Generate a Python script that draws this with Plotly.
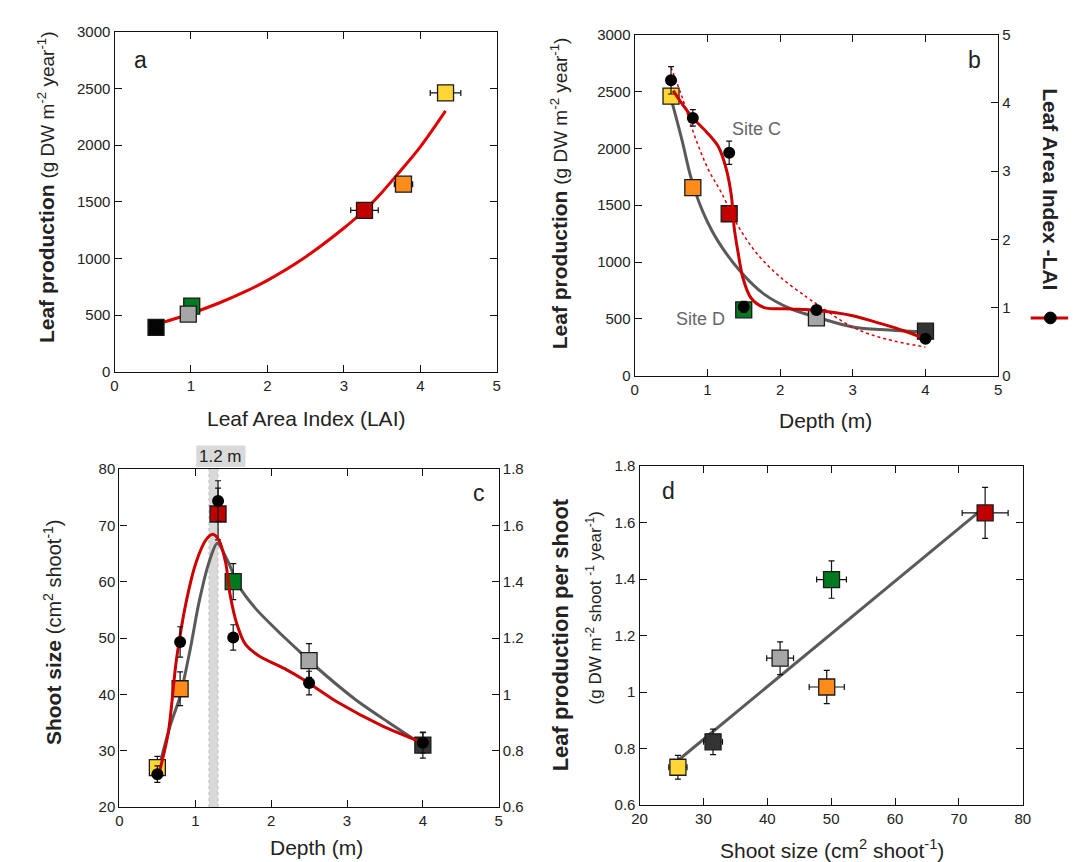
import plotly.graph_objects as go

# ---------------- data ----------------
depth = [0.5, 0.8, 1.3, 1.5, 2.5, 4.0]
site_colors = ["#FFD633", "#FF8C1A", "#C00000", "#007A1E", "#A6A6A6", "#333333"]
site_colors_a = ["#FFD633", "#FF8C1A", "#C00000", "#007A1E", "#A6A6A6", "#050505"]

lai = [4.33, 3.78, 3.27, 1.01, 0.965, 0.543]
lai_err = [0.2, 0.12, 0.17, 0.08, 0.04, 0.02]
lai_xerr_a = [0.2, 0.12, 0.18, 0.0, 0.0, 0.0]
leaf_prod = [2460, 1655, 1425, 580, 510, 392]
leaf_prod_err = [25, 20, 25, 0, 0, 0]

# panel a fitted curve
fit_lai = [0.65, 1.0, 1.36, 1.7, 2.0, 2.47, 2.99, 3.27, 3.5, 3.75, 4.0, 4.33]
fit_lp = [440, 515, 605, 705, 807, 1000, 1262, 1425, 1585, 1781, 1985, 2302]

# panel b curves
gray_b_d = [0.5, 0.65, 0.78, 0.94, 1.15, 1.47, 1.78, 2.15, 2.5, 3.0, 3.5, 4.0]
gray_b_lp = [2440, 2075, 1730, 1440, 1180, 906, 718, 588, 516, 429, 402, 385]
red_b_d = [0.53, 0.65, 0.8, 1.0, 1.15, 1.26, 1.33, 1.37, 1.42, 1.49, 1.6, 1.78, 2.15, 2.5, 3.0, 3.4, 3.7, 4.0]
red_b_lai = [4.18, 3.99, 3.78, 3.56, 3.36, 3.03, 2.64, 2.16, 1.82, 1.43, 1.14, 1.0, 0.98, 0.96, 0.88, 0.76, 0.66, 0.54]
dot_b_d = [0.5, 0.65, 0.81, 1.01, 1.19, 1.42, 1.69, 2.01, 2.37, 2.59, 3.0, 3.45, 4.0]
dot_b_lai = [4.52, 4.09, 3.56, 3.03, 2.69, 2.2, 1.78, 1.44, 1.15, 0.99, 0.71, 0.54, 0.42]

# panel c
shoot_size = [27, 41, 72, 60, 46, 31]
shoot_size_err = [2.0, 3.0, 4.6, 3.2, 3.0, 2.3]
lpps_c = [0.717, 1.186, 1.686, 1.202, 1.04, 0.828]
lpps_c_err = [0.029, 0.054, 0.072, 0.045, 0.042, 0.036]
gray_c_d = [0.52, 0.67, 0.8, 0.93, 1.05, 1.18, 1.29, 1.42, 1.57, 1.79, 2.09, 2.43, 2.59, 3.11, 3.54, 4.0]
gray_c_size = [27.0, 34.5, 39.7, 47.8, 56.4, 63.4, 66.8, 63.9, 59.3, 55.3, 51.2, 46.9, 44.9, 39.1, 35.1, 31.0]
red_c_d = [0.53, 0.645, 0.75, 0.88, 1.01, 1.14, 1.23, 1.31, 1.40, 1.46, 1.55, 1.66, 1.83, 2.2, 2.43, 2.89, 3.45, 4.0]
red_c_lpps = [0.728, 0.866, 1.12, 1.328, 1.468, 1.548, 1.568, 1.548, 1.468, 1.352, 1.248, 1.178, 1.138, 1.088, 1.052, 0.97, 0.89, 0.828]
band_c = [1.18, 1.30]

# panel d
d_shoot = [26.0, 49.3, 74.1, 50.05, 42.0, 31.5]
d_shoot_err = [1.43, 2.75, 3.6, 2.33, 2.1, 1.48]
d_lpps = [0.734, 1.018, 1.634, 1.398, 1.120, 0.824]
d_lpps_err = [0.042, 0.059, 0.09, 0.066, 0.058, 0.045]
reg_x = [26.0, 73.7]
reg_y = [0.758, 1.648]

# ---------------- layout helpers ----------------
W, H = 1077, 862
def px(x):
    return x / W
def py(y):
    return 1 - y / H

FONT = "Liberation Sans, Arial, sans-serif"
RED = "#CC0000"
GRAY = "#5A5A5A"
EDGE = "#1A1A1A"
SQ = 16
CI = 12

fig = go.Figure()

def err(arr, w=3):
    return dict(type="data", array=arr, visible=True, color="#111111", thickness=1.2, width=w)

# ---- panel a ----
fig.add_trace(go.Scatter(x=fit_lai, y=fit_lp, mode="lines", line=dict(color="#E00000", width=3, shape="spline"),
                         xaxis="x", yaxis="y", hoverinfo="skip"))
fig.add_trace(go.Scatter(x=lai, y=leaf_prod, mode="markers", error_x=err(lai_xerr_a),
                         marker=dict(symbol="square", size=SQ, color=site_colors_a, line=dict(color=EDGE, width=1.3)),
                         xaxis="x", yaxis="y"))

# ---- panel b ----
fig.add_trace(go.Scatter(x=gray_b_d, y=gray_b_lp, mode="lines", line=dict(color=GRAY, width=3, shape="spline"),
                         xaxis="x2", yaxis="y2"))
fig.add_trace(go.Scatter(x=depth, y=leaf_prod, mode="markers", error_y=err(leaf_prod_err, 2),
                         marker=dict(symbol="square", size=SQ, color=site_colors, line=dict(color=EDGE, width=1.3)),
                         xaxis="x2", yaxis="y2"))
fig.add_trace(go.Scatter(x=dot_b_d, y=dot_b_lai, mode="lines", line=dict(color="#E00000", width=1.5, dash="dot", shape="spline"),
                         xaxis="x2", yaxis="y3"))
fig.add_trace(go.Scatter(x=red_b_d, y=red_b_lai, mode="lines", line=dict(color=RED, width=3, shape="spline", smoothing=0.8),
                         xaxis="x2", yaxis="y3"))
fig.add_trace(go.Scatter(x=depth, y=lai, mode="markers", error_y=err(lai_err),
                         marker=dict(symbol="circle", size=CI, color="#000000"),
                         xaxis="x2", yaxis="y3"))

# ---- panel c ----
fig.add_trace(go.Scatter(x=gray_c_d, y=gray_c_size, mode="lines", line=dict(color=GRAY, width=3, shape="spline", smoothing=0.8),
                         xaxis="x3", yaxis="y4"))
fig.add_trace(go.Scatter(x=depth, y=shoot_size, mode="markers", error_y=err(shoot_size_err),
                         marker=dict(symbol="square", size=SQ, color=site_colors, line=dict(color=EDGE, width=1.3)),
                         xaxis="x3", yaxis="y4"))
fig.add_trace(go.Scatter(x=red_c_d, y=red_c_lpps, mode="lines", line=dict(color=RED, width=3, shape="spline", smoothing=0.8),
                         xaxis="x3", yaxis="y5"))
fig.add_trace(go.Scatter(x=depth, y=lpps_c, mode="markers", error_y=err(lpps_c_err),
                         marker=dict(symbol="circle", size=CI, color="#000000"),
                         xaxis="x3", yaxis="y5"))

# ---- panel d ----
fig.add_trace(go.Scatter(x=reg_x, y=reg_y, mode="lines", line=dict(color=GRAY, width=3),
                         xaxis="x4", yaxis="y6"))
fig.add_trace(go.Scatter(x=d_shoot, y=d_lpps, mode="markers", error_x=err(d_shoot_err), error_y=err(d_lpps_err),
                         marker=dict(symbol="square", size=SQ, color=site_colors, line=dict(color=EDGE, width=1.3)),
                         xaxis="x4", yaxis="y6"))

axc = dict(showline=True, linecolor="#111111", linewidth=1.3, ticks="inside", ticklen=7, tickwidth=1,
           tickcolor="#111111", tickfont=dict(size=15, color="#222222", family=FONT),
           showgrid=False, zeroline=False, fixedrange=True)

A_X = [px(100), px(488)]; A_Y = [py(362), py(15)]
B_X = [px(628), px(997)]; B_Y = [py(366), py(18)]
C_X = [px(105), px(490)]; C_Y = [py(806), py(461)]
D_X = [px(633), px(1022)]; D_Y = [py(804), py(458)]

fig.update_layout(
    width=W, height=H, margin=dict(l=0, r=0, t=0, b=0),
    paper_bgcolor="white", plot_bgcolor="white", showlegend=False,
    font=dict(family=FONT, color="#222222"),
    xaxis=dict(axc, domain=A_X, anchor="y", range=[0, 5], dtick=1, mirror="ticks"),
    yaxis=dict(axc, domain=A_Y, anchor="x", range=[0, 3000], dtick=500, mirror="ticks"),
    xaxis2=dict(axc, domain=B_X, anchor="y2", range=[0, 5], dtick=1, mirror="ticks"),
    yaxis2=dict(axc, domain=B_Y, anchor="x2", range=[0, 3000], dtick=500, mirror=True),
    yaxis3=dict(axc, overlaying="y2", anchor="x2", side="right", range=[0, 5], dtick=1),
    xaxis3=dict(axc, domain=C_X, anchor="y4", range=[0, 5], dtick=1, mirror="ticks"),
    yaxis4=dict(axc, domain=C_Y, anchor="x3", range=[20, 80], dtick=10, mirror=True),
    yaxis5=dict(axc, overlaying="y4", anchor="x3", side="right", range=[0.6, 1.8], dtick=0.2),
    xaxis4=dict(axc, domain=D_X, anchor="y6", range=[20, 80], dtick=10, mirror="ticks"),
    yaxis6=dict(axc, domain=D_Y, anchor="x4", range=[0.6, 1.8], dtick=0.2, mirror="ticks"),
)

shapes = []
# band in panel c
shapes.append(dict(type="rect", xref="x3", yref="y4 domain", x0=band_c[0], x1=band_c[1], y0=0, y1=1,
                   fillcolor="#D9D9D9", line=dict(width=0), layer="below"))
for xv in band_c:
    shapes.append(dict(type="line", xref="x3", yref="y4 domain", x0=xv, x1=xv, y0=0, y1=1,
                       line=dict(color="#BFBFBF", width=1, dash="dot"), layer="below"))
# label box "1.2 m"
shapes.append(dict(type="rect", xref="paper", yref="paper", x0=px(183), x1=px(233), y0=py(459), y1=py(437),
                   fillcolor="#D9D9D9", line=dict(width=0), layer="below"))
# legend key in panel b (red line with black dot)
shapes.append(dict(type="line", xref="paper", yref="paper", x0=px(1030), x1=px(1068), y0=py(307), y1=py(307),
                   line=dict(color=RED, width=3)))
shapes.append(dict(type="circle", xref="paper", yref="paper", x0=px(1044), x1=px(1056), y0=py(313), y1=py(301),
                   fillcolor="#000000", line=dict(color="#000000", width=1)))
fig.update_layout(shapes=shapes)

ann = []
def A(text, x, y, size, angle=0, color="#222222", xanchor="center", yanchor="middle"):
    ann.append(dict(text=text, x=px(x), y=py(y), xref="paper", yref="paper", showarrow=False,
                    font=dict(size=size, color=color, family=FONT), textangle=angle,
                    xanchor=xanchor, yanchor=yanchor))

lp_title = "<b>Leaf production</b> <span style='font-size:19px'>(g DW m<sup>-2</sup> year<sup>-1</sup>)</span>"
A(lp_title, 30, 174, 21, angle=-90)
A(lp_title, 552, 180, 21, angle=-90)
A("<b>Leaf Area Index -LAI</b>", 1050, 176, 21, angle=90)
A("<b>Shoot size</b> <span style='font-size:20px'>(cm<sup>2</sup> shoot<sup>-1</sup>)</span>", 37, 627, 21, angle=-90)
A("<b>Leaf production per shoot</b>", 553, 630, 22, angle=-90)
A("(g DW m<sup>-2</sup> shoot <sup>-1</sup> year<sup>-1</sup>)", 587, 603, 17, angle=-90)

A("Leaf Area Index (LAI)", 294, 410, 21)
A("Depth (m)", 822, 412, 21)
A("Depth (m)", 305, 847, 21)
A("Shoot size (cm<sup>2</sup> shoot<sup>-1</sup>)", 828, 849, 21)

A("a", 126, 44, 23)
A("b", 973, 44, 23)
A("c", 470, 486, 23)
A("d", 662, 484, 23)

A("Site C", 752, 114, 18, color="#666666")
A("Site D", 695, 308, 18, color="#666666")
A("1.2 m", 208, 448, 17)

fig.update_layout(annotations=ann)

fig.write_html("out.html")
